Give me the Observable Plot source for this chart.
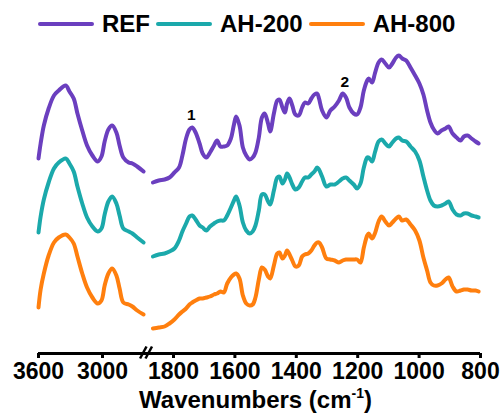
<!DOCTYPE html>
<html><head><meta charset="utf-8">
<script src="https://cdn.jsdelivr.net/npm/d3@7"></script>
<script src="https://cdn.jsdelivr.net/npm/@observablehq/plot@0.6"></script>
<style>
html,body{margin:0;padding:0;background:#fff;}
body{width:501px;height:417px;position:relative;overflow:hidden;font-family:"Liberation Sans",Arial,sans-serif;font-weight:bold;color:#000;}
#legend{position:absolute;left:38px;top:12px;height:24px;display:flex;align-items:center;font-size:24px;line-height:24px;white-space:nowrap;}
.sw{width:56px;height:4px;border-radius:2px;margin-right:8px;}
.lab{margin-right:6px;}
#chart{position:absolute;left:0;top:48px;}
#xtitle{position:absolute;left:0;width:511px;top:389px;text-align:center;font-size:24px;line-height:22px;white-space:nowrap;}
#xtitle sup{font-size:14px;line-height:0;vertical-align:10px;}
</style></head>
<body>
<div id="legend"></div>
<div id="chart"></div>
<div id="xtitle">Wavenumbers (cm<sup>-1</sup>)</div>
<script>
const seriesNames = ["REF", "AH-200", "AH-800"];
const seriesColors = ["#6b3fbf", "#1ba9ab", "#ff7f0e"];

// Left section (O-H / C-H region), wavenumbers in cm-1
const waveLeft = [3600, 3580, 3550, 3505, 3455, 3410, 3345, 3310, 3270, 3235, 3190, 3145, 3095, 3045, 3010, 2980, 2945, 2910, 2870, 2840, 2805, 2755, 2720, 2675, 2615];
const refLeft = [195, 210, 228, 245, 258, 263, 268, 262, 255, 240, 223, 208, 198, 192, 197, 212, 224, 228, 221, 208, 196, 191, 190, 187, 182];
const ah200Left = [121, 137, 154, 171, 185, 191, 195, 190, 182, 167, 150, 136, 127, 122, 125, 139, 152, 157, 150, 138, 125, 122, 120, 116, 111];
const ah800Left = [46, 64, 80, 98, 111, 116, 119, 116, 110, 97, 80, 66, 56, 50, 53, 68, 80, 85, 78, 65, 51, 49, 47, 43, 39];

// Right section (fingerprint region)
const waveRight = [1867, 1848, 1829, 1813, 1797, 1782, 1771, 1759, 1748, 1739, 1728, 1715, 1705, 1693, 1681, 1668, 1658, 1647, 1636, 1625, 1613, 1603, 1596, 1585, 1574, 1563, 1552, 1542, 1533, 1522, 1512, 1503, 1492, 1485, 1473, 1462, 1455, 1445, 1437, 1430, 1422, 1413, 1403, 1392, 1381, 1372, 1361, 1351, 1341, 1332, 1326, 1316, 1302, 1289, 1275, 1261, 1249, 1238, 1227, 1213, 1202, 1191, 1180, 1169, 1164, 1153, 1144, 1132, 1122, 1110, 1098, 1087, 1075, 1066, 1055, 1042, 1028, 1013, 999, 986, 974, 963, 952, 940, 927, 914, 904, 891, 878, 865, 854, 842, 829, 816, 806];
const refRight = [171, 173, 174, 176, 181, 186, 198, 215, 224, 226, 221, 210, 200, 196, 201, 208, 213, 207, 207, 208, 215, 229, 237, 228, 206, 198, 194, 196, 201, 216, 236, 240, 230, 222, 240, 253, 254, 246, 241, 250, 255, 248, 239, 238, 246, 251, 250, 255, 259, 260, 255, 243, 236, 243, 247, 253, 260, 256, 246, 240, 239, 246, 263, 273, 275, 271, 280, 291, 294, 290, 286, 290, 296, 298, 295, 293, 286, 278, 270, 259, 243, 231, 224, 220, 223, 225, 227, 220, 216, 213, 217, 218, 215, 212, 210];
const ah200Right = [97, 99, 100, 102, 105, 113, 122, 130, 137, 138, 134, 128, 126, 123, 127, 130, 132, 133, 133, 138, 146, 153, 157, 148, 131, 123, 120, 122, 128, 143, 159, 159, 152, 149, 163, 176, 177, 170, 174, 180, 176, 169, 164, 166, 172, 176, 176, 179, 182, 186, 184, 177, 167, 169, 169, 172, 175, 176, 173, 169, 165, 170, 186, 196, 196, 192, 201, 212, 214, 210, 207, 211, 215, 216, 213, 212, 207, 202, 193, 177, 163, 153, 148, 147, 148, 150, 152, 144, 139, 138, 140, 140, 138, 137, 136];
const ah800Right = [25, 26, 27, 30, 34, 39, 42, 45, 49, 51, 53, 55, 55, 56, 57, 59, 60, 62, 61, 70, 76, 79, 80, 75, 58, 50, 48, 49, 56, 74, 86, 84, 77, 75, 88, 100, 101, 95, 98, 103, 99, 93, 87, 88, 97, 99, 100, 103, 108, 111, 111, 106, 95, 94, 93, 91, 93, 94, 94, 94, 94, 91, 106, 118, 120, 115, 120, 132, 137, 132, 128, 131, 135, 137, 133, 134, 129, 123, 113, 96, 83, 71, 68, 68, 70, 74, 76, 67, 62, 63, 64, 64, 63, 63, 62];

const xTicks = [3600, 3000, 1800, 1600, 1400, 1200, 1000, 800];
const peakLabels = ["1", "2"];
const peakWave = [1742, 1242];
const peakLevel = [238, 271];
// axis-break slashes, in data coordinates (wavenumber, level)
const breakFromW = [2648, 2568];
const breakToW = [2460, 1870];
const breakFromV = [-5, -5];
const breakToV = [7, 7];

// build rows
const leftVals = [refLeft, ah200Left, ah800Left];
const rightVals = [refRight, ah200Right, ah800Right];
const rows = [];
seriesNames.forEach((s, i) => {
  waveLeft.forEach((w, j) => rows.push({series: s, key: s + "-L", w, v: leftVals[i][j]}));
  waveRight.forEach((w, j) => rows.push({series: s, key: s + "-R", w, v: rightVals[i][j]}));
});
const peaks = peakLabels.map((t, i) => ({t, w: peakWave[i], v: peakLevel[i]}));
const slashes = breakFromW.map((w, i) => ({x1: w, x2: breakToW[i], y1: breakFromV[i], y2: breakToV[i]}));

// legend
const lg = document.getElementById("legend");
seriesNames.forEach((s, i) => {
  const sw = document.createElement("div"); sw.className = "sw"; sw.style.background = seriesColors[i];
  const lb = document.createElement("span"); lb.className = "lab"; lb.textContent = s;
  lg.appendChild(sw); lg.appendChild(lb);
});

const chart = Plot.plot({
  width: 501, height: 335,
  marginLeft: 38, marginRight: 21, marginTop: 5, marginBottom: 30,
  x: {type: "linear", domain: [3600, 2600, 1870, 800], range: [38, 144.7, 151.5, 480]},
  y: {domain: [0, 300], axis: null},
  color: {domain: seriesNames, range: seriesColors},
  style: {fontFamily: "'Liberation Sans', Arial, sans-serif", fontWeight: "bold", color: "#000", background: "#fff", overflow: "visible"},
  marks: [
    Plot.ruleY([0], {x1: 3600, x2: 800, strokeWidth: 3, stroke: "#000"}),
    Plot.axisX({ticks: xTicks, tickFormat: d => String(d), tickSize: 5, tickPadding: 4, fontSize: 23, strokeWidth: 3, label: null}),
    Plot.link(slashes, {x1: "x1", y1: "y1", x2: "x2", y2: "y2", stroke: "#000", strokeWidth: 2.5}),
    Plot.line(rows, {x: "w", y: "v", z: "key", stroke: "series", strokeWidth: 4, curve: "catmull-rom", strokeLinejoin: "round", strokeLinecap: "round"}),
    Plot.text(peaks, {x: "w", y: "v", text: "t", fontSize: 15.5, fontWeight: "bold", fill: "#000"})
  ]
});
document.getElementById("chart").appendChild(chart);
</script>
</body></html>
